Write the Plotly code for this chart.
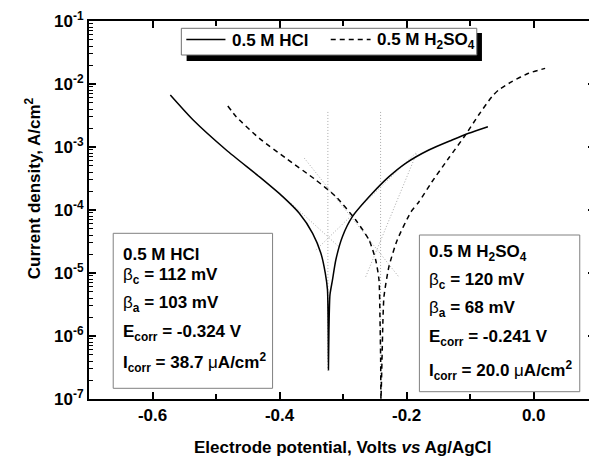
import plotly.graph_objects as go

# ---------------- data ----------------
hcl_E = [-0.572, -0.536, -0.484, -0.432, -0.395, -0.369, -0.348, -0.335, -0.328,
         -0.3246, -0.3235, -0.3231, -0.3223, -0.3207, -0.3168, -0.3115, -0.3011,
         -0.2854, -0.254, -0.2278, -0.2016, -0.1651, -0.1285, -0.1024, -0.0721]
hcl_I = [6.69e-3, 2.68e-3, 8.96e-4, 3.38e-4, 1.63e-4, 8.87e-5, 4.27e-5, 2.06e-5, 9.9e-6,
         5.4e-6, 1.24e-6, 2.9e-7, 1.24e-6, 4.5e-6, 7.7e-6, 1.61e-5, 3.77e-5,
         7.83e-5, 1.84e-4, 3.38e-4, 5.51e-4, 8.96e-4, 1.29e-3, 1.65e-3, 2.10e-3]

h2so4_E = [-0.4815, -0.4683, -0.4318, -0.3899, -0.3428, -0.3114, -0.2801, -0.2592,
           -0.2487, -0.2435, -0.2420, -0.2409, -0.2404, -0.2388, -0.2373, -0.2357,
           -0.2279, -0.2148, -0.1933, -0.1808, -0.1604, -0.1337, -0.1075, -0.0867,
           -0.0658, -0.0553, -0.0344, -0.0082, 0.018]
h2so4_I = [4.48e-3, 3.03e-3, 1.37e-3, 6.62e-4, 2.99e-4, 1.63e-4, 6.93e-5, 3.34e-5,
           1.61e-5, 7.74e-6, 2.02e-6, 4.16e-7, 1.0e-7, 4.16e-7, 1.8e-6, 4.2e-6,
           1.26e-5, 3.34e-5, 9.29e-5, 1.34e-4, 2.78e-4, 6.68e-4, 1.55e-3, 3.22e-3,
           6.28e-3, 8.03e-3, 1.09e-2, 1.48e-2, 1.77e-2]

# Tafel extrapolation lines (dotted grey)
tafel_hcl_c_E = [-0.382, -0.3063]
tafel_hcl_c_I = [1.28e-4, 2.59e-5]
tafel_hcl_a_E = [-0.3428, -0.1839]
tafel_hcl_a_I = [2.32e-5, 8.34e-4]
tafel_h2_c_E = [-0.3612, -0.2122]
tafel_h2_c_I = [6.68e-4, 8.65e-6]
tafel_h2_a_E = [-0.2644, -0.1834]
tafel_h2_a_I = [8.73e-6, 8.41e-4]

# Ecorr marker lines
ecorr_hcl = -0.324
ecorr_h2so4 = -0.241
ecorr_hcl_I = [3.6e-3, 2.6e-7]
ecorr_h2so4_I = [3.6e-3, 1.0e-7]

x_tickvals = [-0.6, -0.4, -0.2, 0.0]
x_ticktext = ["-0.6", "-0.4", "-0.2", "0.0"]
y_tickvals = [1e-7, 1e-6, 1e-5, 1e-4, 1e-3, 1e-2, 1e-1]
y_ticktext = ["10<sup>-7</sup>", "10<sup>-6</sup>", "10<sup>-5</sup>", "10<sup>-4</sup>",
              "10<sup>-3</sup>", "10<sup>-2</sup>", "10<sup>-1</sup>"]

legend_names = ["0.5 M HCl", "0.5 M H<sub>2</sub>SO<sub>4</sub>"]
box_hcl = ["<b>0.5 M HCl</b>",
           "β<b><sub>c</sub> = 112 mV</b>",
           "β<b><sub>a</sub> = 103 mV</b>",
           "<b>E<sub>corr</sub> = -0.324 V</b>",
           "<b>I<sub>corr</sub> = 38.7 </b>μ<b>A/cm<sup>2</sup></b>"]
box_h2so4 = ["<b>0.5 M H<sub>2</sub>SO<sub>4</sub></b>",
             "β<b><sub>c</sub> = 120 mV</b>",
             "β<b><sub>a</sub> = 68 mV</b>",
             "<b>E<sub>corr</sub> = -0.241 V</b>",
             "<b>I<sub>corr</sub> = 20.0 </b>μ<b>A/cm<sup>2</sup></b>"]

# ---------------- layout geometry ----------------
# the page body has an 8px margin, so the figure starts at (8, 8) in the window
OFF = 8
W, H = 597 - OFF, 457 - OFF
L, R, T, B = 89 - OFF, 0, 21 - OFF, 58
PW, PH = W - L - R, H - T - B
FONT = "Liberation Sans, Arial, sans-serif"
PLOT_LEFT, PLOT_BOTTOM = 89, 399   # window pixels


def xp(px):
    return (px - PLOT_LEFT) / PW


def yp(py):
    return (PLOT_BOTTOM - py) / PH


fig = go.Figure()

dot_style = dict(color="#aaaaaa", width=1, dash="1px,2px")
for ex, ey in [(tafel_hcl_c_E, tafel_hcl_c_I), (tafel_hcl_a_E, tafel_hcl_a_I),
               (tafel_h2_c_E, tafel_h2_c_I), (tafel_h2_a_E, tafel_h2_a_I)]:
    fig.add_trace(go.Scatter(x=ex, y=ey, mode="lines", line=dot_style,
                             showlegend=False, hoverinfo="skip"))
fig.add_trace(go.Scatter(x=[ecorr_hcl, ecorr_hcl], y=ecorr_hcl_I, mode="lines",
                         line=dot_style, showlegend=False, hoverinfo="skip"))
fig.add_trace(go.Scatter(x=[ecorr_h2so4, ecorr_h2so4], y=ecorr_h2so4_I, mode="lines",
                         line=dot_style, showlegend=False, hoverinfo="skip"))

fig.add_trace(go.Scatter(x=hcl_E, y=hcl_I, mode="lines", name="0.5 M HCl",
                         line=dict(color="black", width=1.5, shape="spline", smoothing=0.6),
                         showlegend=False))
fig.add_trace(go.Scatter(x=h2so4_E, y=h2so4_I, mode="lines", name="0.5 M H2SO4",
                         line=dict(color="black", width=1.5, dash="5px,4px",
                                   shape="spline", smoothing=0.6),
                         showlegend=False))

shapes = []
annotations = []

# legend (drawn box with shadow)
shapes.append(dict(type="rect", xref="paper", yref="paper", x0=xp(187), x1=xp(483.5),
                   y0=yp(61), y1=yp(33), fillcolor="black", line=dict(width=0)))
shapes.append(dict(type="rect", xref="paper", yref="paper", x0=xp(181.7), x1=xp(478.3),
                   y0=yp(55), y1=yp(28.3), fillcolor="white",
                   line=dict(color="#707070", width=1)))
shapes.append(dict(type="line", xref="paper", yref="paper", x0=xp(186.7), x1=xp(226),
                   y0=yp(39.5), y1=yp(39.5), line=dict(color="black", width=1.5)))
shapes.append(dict(type="line", xref="paper", yref="paper", x0=xp(331.7), x1=xp(371.7),
                   y0=yp(39.5), y1=yp(39.5), line=dict(color="black", width=1.5, dash="5px,4px")))
annotations.append(dict(xref="paper", yref="paper", x=xp(231), y=yp(40.5), xanchor="left",
                        yanchor="middle", showarrow=False, text="<b>" + legend_names[0] + "</b>",
                        font=dict(family=FONT, size=17, color="black")))
annotations.append(dict(xref="paper", yref="paper", x=xp(376), y=yp(40.5), xanchor="left",
                        yanchor="middle", showarrow=False, text="<b>" + legend_names[1] + "</b>",
                        font=dict(family=FONT, size=17, color="black")))

# parameter boxes
shapes.append(dict(type="rect", xref="paper", yref="paper", x0=xp(113.3), x1=xp(273.3),
                   y0=yp(388.3), y1=yp(233.3), fillcolor="white",
                   line=dict(color="#808080", width=1)))
shapes.append(dict(type="rect", xref="paper", yref="paper", x0=xp(420.7), x1=xp(581.7),
                   y0=yp(391.7), y1=yp(235), fillcolor="white",
                   line=dict(color="#808080", width=1)))
ys_left = [254, 276, 304, 332.5, 362]
ys_right = [253, 281, 309, 337.5, 370]
for txt, yy in zip(box_hcl, ys_left):
    annotations.append(dict(xref="paper", yref="paper", x=xp(121.5), y=yp(yy), xanchor="left",
                            yanchor="middle", showarrow=False, text=txt,
                            font=dict(family=FONT, size=17, color="black")))
for txt, yy in zip(box_h2so4, ys_right):
    annotations.append(dict(xref="paper", yref="paper", x=xp(428.5), y=yp(yy), xanchor="left",
                            yanchor="middle", showarrow=False, text=txt,
                            font=dict(family=FONT, size=17, color="black")))

# axis titles
annotations.append(dict(xref="paper", yref="paper", x=xp(344), y=yp(448), xanchor="center",
                        yanchor="middle", showarrow=False,
                        text="<b>Electrode potential, Volts <i>vs</i> Ag/AgCl</b>",
                        font=dict(family=FONT, size=17, color="black")))
annotations.append(dict(xref="paper", yref="paper", x=xp(33), y=yp(188), xanchor="center",
                        yanchor="middle", showarrow=False, textangle=-90,
                        text="<b>Current density, A/cm<sup>2</sup></b>",
                        font=dict(family=FONT, size=17, color="black")))

fig.update_layout(
    width=W, height=H, autosize=False,
    margin=dict(l=L, r=R, t=T, b=B, pad=0),
    paper_bgcolor="white", plot_bgcolor="white",
    showlegend=False,
    shapes=shapes, annotations=annotations,
    font=dict(family=FONT, color="black"),
)
fig.update_xaxes(
    range=[-0.7, 0.0965], tickvals=x_tickvals, ticktext=x_ticktext,
    ticks="inside", ticklen=7, tickwidth=1.5, tickcolor="black",
    showline=True, linecolor="black", linewidth=2, mirror="ticks",
    showgrid=False, zeroline=False,
    tickfont=dict(family=FONT, size=17, color="black", weight="bold"),
    minor=dict(tickvals=[-0.5, -0.3, -0.1], ticks="inside", ticklen=5,
               tickwidth=1.5, tickcolor="black", showgrid=False),
)
fig.update_yaxes(
    type="log", range=[-7, -1], tickvals=y_tickvals, ticktext=y_ticktext,
    ticks="inside", ticklen=7, tickwidth=1.5, tickcolor="black",
    showline=True, linecolor="black", linewidth=2, mirror="ticks",
    showgrid=False, zeroline=False,
    tickfont=dict(family=FONT, size=17, color="black", weight="bold"),
    minor=dict(dtick="D1", ticks="inside", ticklen=4, tickwidth=1,
               tickcolor="black", showgrid=False),
)

fig.write_html("out.html")
